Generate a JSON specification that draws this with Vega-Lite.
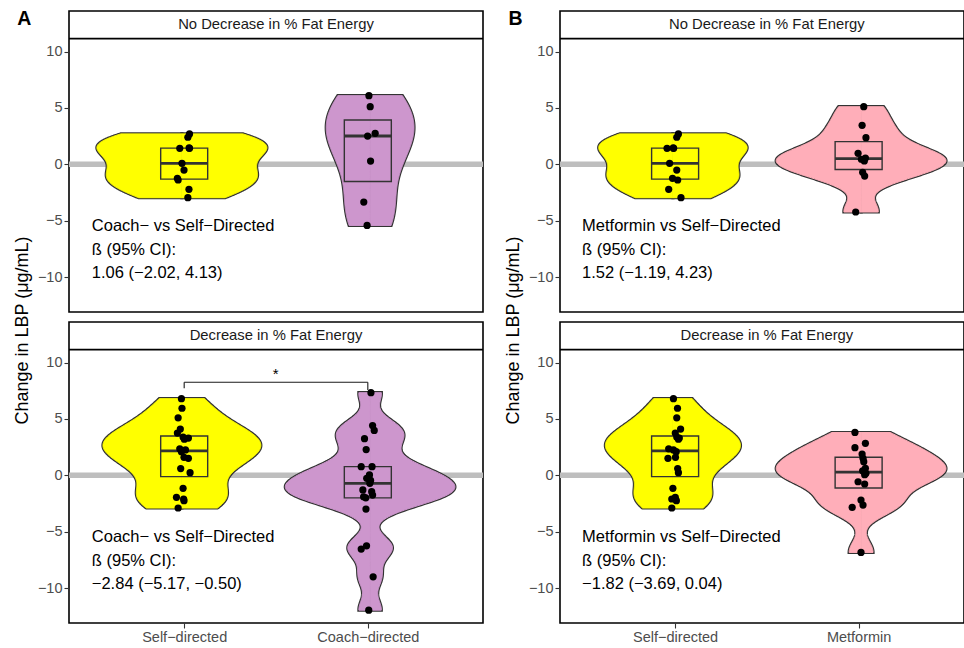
{
  "$schema": "https://vega.github.io/schema/vega-lite/v6.json",
  "padding": {"left": 12, "top": 8, "right": 0, "bottom": 0},
  "background": "white",
  "config": {
    "font": "Liberation Sans",
    "view": {"stroke": "#000000", "strokeWidth": 1.6},
    "axis": {"grid": false, "domain": false, "labelFont": "Liberation Sans", "titleFont": "Liberation Sans"}
  },
  "datasets": {
    "pts": [
      {"p":"A1","g":1,"x":1.029,"v":2.70},{"p":"A1","g":1,"x":1.020,"v":2.40},{"p":"A1","g":1,"x":0.976,"v":1.42},{"p":"A1","g":1,"x":1.029,"v":1.42},{"p":"A1","g":1,"x":1.027,"v":1.45},{"p":"A1","g":1,"x":0.988,"v":0.09},{"p":"A1","g":1,"x":0.999,"v":-0.51},{"p":"A1","g":1,"x":0.963,"v":-1.24},{"p":"A1","g":1,"x":0.967,"v":-1.39},{"p":"A1","g":1,"x":1.026,"v":-2.22},{"p":"A1","g":1,"x":1.020,"v":-2.96},
      {"p":"A1","g":2,"x":2.006,"v":6.09},{"p":"A1","g":2,"x":2.013,"v":5.11},{"p":"A1","g":2,"x":2.040,"v":2.75},{"p":"A1","g":2,"x":1.999,"v":2.51},{"p":"A1","g":2,"x":2.015,"v":0.29},{"p":"A1","g":2,"x":1.978,"v":-3.35},{"p":"A1","g":2,"x":1.996,"v":-5.42},
      {"p":"A2","g":1,"x":0.985,"v":6.80},{"p":"A2","g":1,"x":0.988,"v":5.95},{"p":"A2","g":1,"x":0.967,"v":5.10},{"p":"A2","g":1,"x":0.979,"v":4.10},{"p":"A2","g":1,"x":0.963,"v":3.75},{"p":"A2","g":1,"x":0.994,"v":3.40},{"p":"A2","g":1,"x":1.023,"v":3.30},{"p":"A2","g":1,"x":1.001,"v":3.20},{"p":"A2","g":1,"x":0.976,"v":2.35},{"p":"A2","g":1,"x":1.007,"v":2.25},{"p":"A2","g":1,"x":0.985,"v":2.10},{"p":"A2","g":1,"x":0.999,"v":1.60},{"p":"A2","g":1,"x":1.023,"v":1.51},{"p":"A2","g":1,"x":0.981,"v":0.60},{"p":"A2","g":1,"x":1.032,"v":0.23},{"p":"A2","g":1,"x":0.994,"v":-1.15},{"p":"A2","g":1,"x":0.958,"v":-1.95},{"p":"A2","g":1,"x":0.997,"v":-2.10},{"p":"A2","g":1,"x":0.999,"v":-2.25},{"p":"A2","g":1,"x":0.967,"v":-2.90},
      {"p":"A2","g":2,"x":2.017,"v":7.33},{"p":"A2","g":2,"x":2.026,"v":4.42},{"p":"A2","g":2,"x":2.035,"v":3.98},{"p":"A2","g":2,"x":1.982,"v":3.25},{"p":"A2","g":2,"x":1.991,"v":2.28},{"p":"A2","g":2,"x":1.964,"v":0.77},{"p":"A2","g":2,"x":2.023,"v":0.77},{"p":"A2","g":2,"x":2.009,"v":0.03},{"p":"A2","g":2,"x":1.994,"v":-0.27},{"p":"A2","g":2,"x":2.015,"v":-0.45},{"p":"A2","g":2,"x":2.011,"v":-0.71},{"p":"A2","g":2,"x":1.973,"v":-1.30},{"p":"A2","g":2,"x":2.021,"v":-1.45},{"p":"A2","g":2,"x":2.026,"v":-1.75},{"p":"A2","g":2,"x":1.977,"v":-1.90},{"p":"A2","g":2,"x":1.989,"v":-2.00},{"p":"A2","g":2,"x":1.990,"v":-2.99},{"p":"A2","g":2,"x":1.993,"v":-6.25},{"p":"A2","g":2,"x":1.964,"v":-6.54},{"p":"A2","g":2,"x":2.029,"v":-9.00},{"p":"A2","g":2,"x":2.005,"v":-11.96},
      {"p":"B1","g":1,"x":1.018,"v":2.70},{"p":"B1","g":1,"x":1.009,"v":2.40},{"p":"B1","g":1,"x":0.956,"v":1.42},{"p":"B1","g":1,"x":0.992,"v":1.42},{"p":"B1","g":1,"x":0.990,"v":1.45},{"p":"B1","g":1,"x":0.970,"v":0.09},{"p":"B1","g":1,"x":1.009,"v":-0.51},{"p":"B1","g":1,"x":0.986,"v":-1.24},{"p":"B1","g":1,"x":1.014,"v":-1.39},{"p":"B1","g":1,"x":0.965,"v":-2.22},{"p":"B1","g":1,"x":1.032,"v":-2.96},
      {"p":"B1","g":2,"x":2.028,"v":5.11},{"p":"B1","g":2,"x":2.019,"v":3.46},{"p":"B1","g":2,"x":2.040,"v":2.36},{"p":"B1","g":2,"x":1.997,"v":0.98},{"p":"B1","g":2,"x":2.037,"v":0.55},{"p":"B1","g":2,"x":2.015,"v":0.45},{"p":"B1","g":2,"x":2.031,"v":0.30},{"p":"B1","g":2,"x":2.022,"v":-0.71},{"p":"B1","g":2,"x":2.033,"v":-1.04},{"p":"B1","g":2,"x":1.984,"v":-4.23},
      {"p":"B2","g":1,"x":0.991,"v":6.80},{"p":"B2","g":1,"x":1.013,"v":5.95},{"p":"B2","g":1,"x":1.009,"v":5.10},{"p":"B2","g":1,"x":1.030,"v":4.10},{"p":"B2","g":1,"x":1.001,"v":3.75},{"p":"B2","g":1,"x":1.009,"v":3.40},{"p":"B2","g":1,"x":1.023,"v":3.30},{"p":"B2","g":1,"x":1.018,"v":3.20},{"p":"B2","g":1,"x":0.965,"v":2.35},{"p":"B2","g":1,"x":0.991,"v":2.25},{"p":"B2","g":1,"x":1.006,"v":2.10},{"p":"B2","g":1,"x":1.002,"v":1.60},{"p":"B2","g":1,"x":0.961,"v":1.51},{"p":"B2","g":1,"x":1.014,"v":0.60},{"p":"B2","g":1,"x":1.018,"v":0.23},{"p":"B2","g":1,"x":0.988,"v":-1.15},{"p":"B2","g":1,"x":1.001,"v":-1.95},{"p":"B2","g":1,"x":0.982,"v":-2.10},{"p":"B2","g":1,"x":1.007,"v":-2.25},{"p":"B2","g":1,"x":0.982,"v":-2.90},
      {"p":"B2","g":2,"x":1.980,"v":3.80},{"p":"B2","g":2,"x":2.037,"v":2.84},{"p":"B2","g":2,"x":1.980,"v":2.45},{"p":"B2","g":2,"x":2.019,"v":1.89},{"p":"B2","g":2,"x":2.024,"v":1.51},{"p":"B2","g":2,"x":2.028,"v":1.21},{"p":"B2","g":2,"x":2.037,"v":0.62},{"p":"B2","g":2,"x":2.022,"v":0.40},{"p":"B2","g":2,"x":2.040,"v":0.18},{"p":"B2","g":2,"x":2.033,"v":0.05},{"p":"B2","g":2,"x":1.997,"v":-0.57},{"p":"B2","g":2,"x":2.033,"v":-0.77},{"p":"B2","g":2,"x":2.013,"v":-2.19},{"p":"B2","g":2,"x":2.024,"v":-2.64},{"p":"B2","g":2,"x":1.965,"v":-2.84},{"p":"B2","g":2,"x":2.013,"v":-6.84}
    ]
  },
  "spacing": 16,
  "hconcat": [
    {
      "spacing": 10,
      "bounds": "flush",
      "vconcat": [
        {
          "width": 414, "height": 301,
          "data": {"name": "pts"},
          "transform": [{"filter": "datum.p == 'A1'"}],
          "resolve": {"scale": {"x": "independent"}, "axis": {"y": "independent"}},
          "layer": [
            {"data": {"values": [{}]}, "mark": {"type": "rule", "color": "#BEBEBE", "strokeWidth": 5.5},
             "encoding": {"y": {"datum": 0, "type": "quantitative", "scale": {"domain": [-13.1, 13.6], "nice": false, "zero": false},
               "axis": {"orient": "left", "values": [-10, -5, 0, 5, 10], "title": "Change in LBP (μg/mL)", "titleX": -37.5, "titleY": 319, "titleFontSize": 18, "titleFontWeight": "normal", "titleColor": "#000000", "titleBaseline": "bottom", "tickSize": 5, "tickColor": "#333333", "tickWidth": 1.1, "labelColor": "#4D4D4D", "labelFontSize": 14.5, "labelPadding": 2}}}},
            {
              "transform": [{"filter": "datum.g == 1"}, {"density": "v", "bandwidth": 1.063, "steps": 200}],
              "resolve": {"scale": {"x": "independent"}},
              "layer": [
                {"mark": {"type": "area", "orient": "horizontal", "fill": "transparent", "stroke": "#333333", "strokeWidth": 3.2},
                 "encoding": {"y": {"field": "value", "type": "quantitative", "scale": {"domain": [-13.1, 13.6], "nice": false, "zero": false}, "axis": null},
                   "x": {"field": "density", "type": "quantitative", "stack": null, "scale": {"domain": [-0.5881, 0.2205], "reverse": true, "nice": false, "zero": false}, "axis": null}}},
                {"mark": {"type": "area", "orient": "horizontal", "fill": "transparent", "stroke": "#333333", "strokeWidth": 3.2},
                 "encoding": {"y": {"field": "value", "type": "quantitative", "scale": {"domain": [-13.1, 13.6], "nice": false, "zero": false}, "axis": null},
                   "x": {"field": "density", "type": "quantitative", "stack": null, "scale": {"domain": [-0.2205, 0.5881], "nice": false, "zero": false}, "axis": null}}},
                {"mark": {"type": "area", "orient": "horizontal", "fill": "#FFFF00", "stroke": "#FFFF00", "strokeWidth": 1},
                 "encoding": {"y": {"field": "value", "type": "quantitative", "scale": {"domain": [-13.1, 13.6], "nice": false, "zero": false}, "axis": null},
                   "x": {"field": "density", "type": "quantitative", "stack": null, "scale": {"domain": [-0.5881, 0.2205], "reverse": true, "nice": false, "zero": false}, "axis": null}}},
                {"mark": {"type": "area", "orient": "horizontal", "fill": "#FFFF00", "stroke": "#FFFF00", "strokeWidth": 1},
                 "encoding": {"y": {"field": "value", "type": "quantitative", "scale": {"domain": [-13.1, 13.6], "nice": false, "zero": false}, "axis": null},
                   "x": {"field": "density", "type": "quantitative", "stack": null, "scale": {"domain": [-0.2205, 0.5881], "nice": false, "zero": false}, "axis": null}}}
              ]
            },
            {
              "transform": [{"filter": "datum.g == 2"}, {"density": "v", "bandwidth": 2.486, "steps": 200}],
              "resolve": {"scale": {"x": "independent"}},
              "layer": [
                {"mark": {"type": "area", "orient": "horizontal", "fill": "transparent", "stroke": "#333333", "strokeWidth": 3.2},
                 "encoding": {"y": {"field": "value", "type": "quantitative", "scale": {"domain": [-13.1, 13.6], "nice": false, "zero": false}, "axis": null},
                   "x": {"field": "density", "type": "quantitative", "stack": null, "scale": {"domain": [-0.2205, 0.5881], "reverse": true, "nice": false, "zero": false}, "axis": null}}},
                {"mark": {"type": "area", "orient": "horizontal", "fill": "transparent", "stroke": "#333333", "strokeWidth": 3.2},
                 "encoding": {"y": {"field": "value", "type": "quantitative", "scale": {"domain": [-13.1, 13.6], "nice": false, "zero": false}, "axis": null},
                   "x": {"field": "density", "type": "quantitative", "stack": null, "scale": {"domain": [-0.5881, 0.2205], "nice": false, "zero": false}, "axis": null}}},
                {"mark": {"type": "area", "orient": "horizontal", "fill": "#CD96CD", "stroke": "#CD96CD", "strokeWidth": 1},
                 "encoding": {"y": {"field": "value", "type": "quantitative", "scale": {"domain": [-13.1, 13.6], "nice": false, "zero": false}, "axis": null},
                   "x": {"field": "density", "type": "quantitative", "stack": null, "scale": {"domain": [-0.2205, 0.5881], "reverse": true, "nice": false, "zero": false}, "axis": null}}},
                {"mark": {"type": "area", "orient": "horizontal", "fill": "#CD96CD", "stroke": "#CD96CD", "strokeWidth": 1},
                 "encoding": {"y": {"field": "value", "type": "quantitative", "scale": {"domain": [-13.1, 13.6], "nice": false, "zero": false}, "axis": null},
                   "x": {"field": "density", "type": "quantitative", "stack": null, "scale": {"domain": [-0.5881, 0.2205], "nice": false, "zero": false}, "axis": null}}}
              ]
            },
            {
              "layer": [
                {"mark": {"type": "bar", "width": 47, "fill": "transparent", "stroke": "#333333", "strokeWidth": 1.4},
                 "encoding": {"x": {"field": "g", "type": "quantitative", "scale": {"domain": [0.4, 2.6], "nice": false, "zero": false}, "axis": null},
                   "y": {"aggregate": "q1", "field": "v", "type": "quantitative", "scale": {"domain": [-13.1, 13.6], "nice": false, "zero": false}, "axis": null},
                   "y2": {"aggregate": "q3", "field": "v"}}},
                {"mark": {"type": "tick", "orient": "horizontal", "size": 47, "thickness": 2.8, "color": "#333333"},
                 "encoding": {"x": {"field": "g", "type": "quantitative", "scale": {"domain": [0.4, 2.6], "nice": false, "zero": false}, "axis": null},
                   "y": {"aggregate": "median", "field": "v", "type": "quantitative", "scale": {"domain": [-13.1, 13.6], "nice": false, "zero": false}, "axis": null}}},
                {"mark": {"type": "circle", "size": 52, "color": "#000000", "opacity": 1},
                 "encoding": {"x": {"field": "x", "type": "quantitative", "scale": {"domain": [0.4, 2.6], "nice": false, "zero": false}, "axis": null},
                   "y": {"field": "v", "type": "quantitative", "scale": {"domain": [-13.1, 13.6], "nice": false, "zero": false}, "axis": null}}},
                {"data": {"values": [{}]}, "mark": {"type": "text", "align": "left", "baseline": "middle", "fontSize": 16.5, "lineHeight": 23.5, "color": "#000000", "text": ["Coach− vs Self−Directed", "ß (95% CI):", "1.06 (−2.02, 4.13)"]},
                 "encoding": {"x": {"datum": 0.497, "type": "quantitative", "scale": {"domain": [0.4, 2.6], "nice": false, "zero": false}, "axis": null},
                   "y": {"datum": -5.48, "type": "quantitative", "scale": {"domain": [-13.1, 13.6], "nice": false, "zero": false}, "axis": null}}},
                {"data": {"values": [{}]}, "mark": {"type": "rule", "color": "#000000", "strokeWidth": 1.8},
                 "encoding": {"y": {"datum": 11.15, "type": "quantitative", "scale": {"domain": [-13.1, 13.6], "nice": false, "zero": false}, "axis": null}}},
                {"data": {"values": [{}]}, "mark": {"type": "text", "align": "center", "baseline": "middle", "fontSize": 14.8, "color": "#1A1A1A", "text": "No Decrease in % Fat Energy"},
                 "encoding": {"x": {"datum": 1.5, "type": "quantitative", "scale": {"domain": [0.4, 2.6], "nice": false, "zero": false}, "axis": null},
                   "y": {"datum": 12.36, "type": "quantitative", "scale": {"domain": [-13.1, 13.6], "nice": false, "zero": false}, "axis": null}}},
                {"data": {"values": [{}]}, "mark": {"type": "text", "align": "center", "baseline": "middle", "fontSize": 19.5, "fontWeight": "bold", "color": "#000000", "text": "A"},
                 "encoding": {"x": {"datum": 0.13, "type": "quantitative", "scale": {"domain": [0.4, 2.6], "nice": false, "zero": false}, "axis": null},
                   "y": {"datum": 12.85, "type": "quantitative", "scale": {"domain": [-13.1, 13.6], "nice": false, "zero": false}, "axis": null}}}
              ]
            }
          ]
        },
        {
          "width": 414, "height": 301,
          "data": {"name": "pts"},
          "transform": [{"filter": "datum.p == 'A2'"}],
          "resolve": {"scale": {"x": "independent"}, "axis": {"y": "independent"}},
          "layer": [
            {"data": {"values": [{}]}, "mark": {"type": "rule", "color": "#BEBEBE", "strokeWidth": 5.5},
             "encoding": {"y": {"datum": 0, "type": "quantitative", "scale": {"domain": [-13.1, 13.6], "nice": false, "zero": false},
               "axis": {"orient": "left", "values": [-10, -5, 0, 5, 10], "title": null, "tickSize": 5, "tickColor": "#333333", "tickWidth": 1.1, "labelColor": "#4D4D4D", "labelFontSize": 14.5, "labelPadding": 2}}}},
            {
              "transform": [{"filter": "datum.g == 1"}, {"density": "v", "bandwidth": 1.329, "steps": 200}],
              "resolve": {"scale": {"x": "independent"}},
              "layer": [
                {"mark": {"type": "area", "orient": "horizontal", "fill": "transparent", "stroke": "#333333", "strokeWidth": 3.2},
                 "encoding": {"y": {"field": "value", "type": "quantitative", "scale": {"domain": [-13.1, 13.6], "nice": false, "zero": false}, "axis": null},
                   "x": {"field": "density", "type": "quantitative", "stack": null, "scale": {"domain": [-0.5121, 0.1920], "reverse": true, "nice": false, "zero": false}, "axis": null}}},
                {"mark": {"type": "area", "orient": "horizontal", "fill": "transparent", "stroke": "#333333", "strokeWidth": 3.2},
                 "encoding": {"y": {"field": "value", "type": "quantitative", "scale": {"domain": [-13.1, 13.6], "nice": false, "zero": false}, "axis": null},
                   "x": {"field": "density", "type": "quantitative", "stack": null, "scale": {"domain": [-0.1920, 0.5121], "nice": false, "zero": false}, "axis": null}}},
                {"mark": {"type": "area", "orient": "horizontal", "fill": "#FFFF00", "stroke": "#FFFF00", "strokeWidth": 1},
                 "encoding": {"y": {"field": "value", "type": "quantitative", "scale": {"domain": [-13.1, 13.6], "nice": false, "zero": false}, "axis": null},
                   "x": {"field": "density", "type": "quantitative", "stack": null, "scale": {"domain": [-0.5121, 0.1920], "reverse": true, "nice": false, "zero": false}, "axis": null}}},
                {"mark": {"type": "area", "orient": "horizontal", "fill": "#FFFF00", "stroke": "#FFFF00", "strokeWidth": 1},
                 "encoding": {"y": {"field": "value", "type": "quantitative", "scale": {"domain": [-13.1, 13.6], "nice": false, "zero": false}, "axis": null},
                   "x": {"field": "density", "type": "quantitative", "stack": null, "scale": {"domain": [-0.1920, 0.5121], "nice": false, "zero": false}, "axis": null}}}
              ]
            },
            {
              "transform": [{"filter": "datum.g == 2"}, {"density": "v", "bandwidth": 1.012, "steps": 200}],
              "resolve": {"scale": {"x": "independent"}},
              "layer": [
                {"mark": {"type": "area", "orient": "horizontal", "fill": "transparent", "stroke": "#333333", "strokeWidth": 3.2},
                 "encoding": {"y": {"field": "value", "type": "quantitative", "scale": {"domain": [-13.1, 13.6], "nice": false, "zero": false}, "axis": null},
                   "x": {"field": "density", "type": "quantitative", "stack": null, "scale": {"domain": [-0.1920, 0.5121], "reverse": true, "nice": false, "zero": false}, "axis": null}}},
                {"mark": {"type": "area", "orient": "horizontal", "fill": "transparent", "stroke": "#333333", "strokeWidth": 3.2},
                 "encoding": {"y": {"field": "value", "type": "quantitative", "scale": {"domain": [-13.1, 13.6], "nice": false, "zero": false}, "axis": null},
                   "x": {"field": "density", "type": "quantitative", "stack": null, "scale": {"domain": [-0.5121, 0.1920], "nice": false, "zero": false}, "axis": null}}},
                {"mark": {"type": "area", "orient": "horizontal", "fill": "#CD96CD", "stroke": "#CD96CD", "strokeWidth": 1},
                 "encoding": {"y": {"field": "value", "type": "quantitative", "scale": {"domain": [-13.1, 13.6], "nice": false, "zero": false}, "axis": null},
                   "x": {"field": "density", "type": "quantitative", "stack": null, "scale": {"domain": [-0.1920, 0.5121], "reverse": true, "nice": false, "zero": false}, "axis": null}}},
                {"mark": {"type": "area", "orient": "horizontal", "fill": "#CD96CD", "stroke": "#CD96CD", "strokeWidth": 1},
                 "encoding": {"y": {"field": "value", "type": "quantitative", "scale": {"domain": [-13.1, 13.6], "nice": false, "zero": false}, "axis": null},
                   "x": {"field": "density", "type": "quantitative", "stack": null, "scale": {"domain": [-0.5121, 0.1920], "nice": false, "zero": false}, "axis": null}}}
              ]
            },
            {
              "resolve": {"axis": {"x": "independent"}},
              "layer": [
                {"mark": {"type": "bar", "width": 47, "fill": "transparent", "stroke": "#333333", "strokeWidth": 1.4},
                 "encoding": {"x": {"field": "g", "type": "quantitative", "scale": {"domain": [0.4, 2.6], "nice": false, "zero": false}, "axis": null},
                   "y": {"aggregate": "q1", "field": "v", "type": "quantitative", "scale": {"domain": [-13.1, 13.6], "nice": false, "zero": false}, "axis": null},
                   "y2": {"aggregate": "q3", "field": "v"}}},
                {"mark": {"type": "tick", "orient": "horizontal", "size": 47, "thickness": 2.8, "color": "#333333"},
                 "encoding": {"x": {"field": "g", "type": "quantitative", "scale": {"domain": [0.4, 2.6], "nice": false, "zero": false}, "axis": null},
                   "y": {"aggregate": "median", "field": "v", "type": "quantitative", "scale": {"domain": [-13.1, 13.6], "nice": false, "zero": false}, "axis": null}}},
                {"mark": {"type": "circle", "size": 52, "color": "#000000", "opacity": 1},
                 "encoding": {"x": {"field": "x", "type": "quantitative", "scale": {"domain": [0.4, 2.6], "nice": false, "zero": false},
                     "axis": {"orient": "bottom", "values": [1, 2], "labelExpr": "datum.value == 1 ? 'Self−directed' : 'Coach−directed'", "title": null, "tickSize": 5, "tickColor": "#333333", "tickWidth": 1.1, "labelColor": "#4D4D4D", "labelFontSize": 14.5, "labelPadding": 2}},
                   "y": {"field": "v", "type": "quantitative", "scale": {"domain": [-13.1, 13.6], "nice": false, "zero": false}, "axis": null}}},
                {"data": {"values": [{}]}, "mark": {"type": "text", "align": "left", "baseline": "middle", "fontSize": 16.5, "lineHeight": 23.5, "color": "#000000", "text": ["Coach− vs Self−Directed", "ß (95% CI):", "−2.84 (−5.17, −0.50)"]},
                 "encoding": {"x": {"datum": 0.497, "type": "quantitative", "scale": {"domain": [0.4, 2.6], "nice": false, "zero": false}, "axis": null},
                   "y": {"datum": -5.48, "type": "quantitative", "scale": {"domain": [-13.1, 13.6], "nice": false, "zero": false}, "axis": null}}},
                {"data": {"values": [{}]}, "mark": {"type": "rule", "color": "#1A1A1A", "strokeWidth": 1.1},
                 "encoding": {"x": {"datum": 1, "type": "quantitative", "scale": {"domain": [0.4, 2.6], "nice": false, "zero": false}, "axis": null},
                   "y": {"datum": 7.72, "type": "quantitative", "scale": {"domain": [-13.1, 13.6], "nice": false, "zero": false}, "axis": null},
                   "y2": {"datum": 8.26}}},
                {"data": {"values": [{}]}, "mark": {"type": "rule", "color": "#1A1A1A", "strokeWidth": 1.1},
                 "encoding": {"x": {"datum": 1, "type": "quantitative", "scale": {"domain": [0.4, 2.6], "nice": false, "zero": false}, "axis": null},
                   "x2": {"datum": 2},
                   "y": {"datum": 8.26, "type": "quantitative", "scale": {"domain": [-13.1, 13.6], "nice": false, "zero": false}, "axis": null}}},
                {"data": {"values": [{}]}, "mark": {"type": "rule", "color": "#1A1A1A", "strokeWidth": 1.1},
                 "encoding": {"x": {"datum": 2, "type": "quantitative", "scale": {"domain": [0.4, 2.6], "nice": false, "zero": false}, "axis": null},
                   "y": {"datum": 7.57, "type": "quantitative", "scale": {"domain": [-13.1, 13.6], "nice": false, "zero": false}, "axis": null},
                   "y2": {"datum": 8.26}}},
                {"data": {"values": [{}]}, "mark": {"type": "text", "align": "center", "baseline": "alphabetic", "fontSize": 15, "color": "#000000", "text": "*"},
                 "encoding": {"x": {"datum": 1.498, "type": "quantitative", "scale": {"domain": [0.4, 2.6], "nice": false, "zero": false}, "axis": null},
                   "y": {"datum": 8.55, "type": "quantitative", "scale": {"domain": [-13.1, 13.6], "nice": false, "zero": false}, "axis": null}}},
                {"data": {"values": [{}]}, "mark": {"type": "rule", "color": "#000000", "strokeWidth": 1.8},
                 "encoding": {"y": {"datum": 11.15, "type": "quantitative", "scale": {"domain": [-13.1, 13.6], "nice": false, "zero": false}, "axis": null}}},
                {"data": {"values": [{}]}, "mark": {"type": "text", "align": "center", "baseline": "middle", "fontSize": 14.8, "color": "#1A1A1A", "text": "Decrease in % Fat Energy"},
                 "encoding": {"x": {"datum": 1.5, "type": "quantitative", "scale": {"domain": [0.4, 2.6], "nice": false, "zero": false}, "axis": null},
                   "y": {"datum": 12.36, "type": "quantitative", "scale": {"domain": [-13.1, 13.6], "nice": false, "zero": false}, "axis": null}}}
              ]
            }
          ]
        }
      ]
    },
    {
      "spacing": 10,
      "bounds": "flush",
      "vconcat": [
        {
          "width": 404, "height": 301,
          "data": {"name": "pts"},
          "transform": [{"filter": "datum.p == 'B1'"}],
          "resolve": {"scale": {"x": "independent"}, "axis": {"y": "independent"}},
          "layer": [
            {"data": {"values": [{}]}, "mark": {"type": "rule", "color": "#BEBEBE", "strokeWidth": 5.5},
             "encoding": {"y": {"datum": 0, "type": "quantitative", "scale": {"domain": [-13.1, 13.6], "nice": false, "zero": false},
               "axis": {"orient": "left", "values": [-10, -5, 0, 5, 10], "title": "Change in LBP (μg/mL)", "titleX": -37.5, "titleY": 319, "titleFontSize": 18, "titleFontWeight": "normal", "titleColor": "#000000", "titleBaseline": "bottom", "tickSize": 5, "tickColor": "#333333", "tickWidth": 1.1, "labelColor": "#4D4D4D", "labelFontSize": 14.5, "labelPadding": 2}}}},
            {
              "transform": [{"filter": "datum.g == 1"}, {"density": "v", "bandwidth": 1.063, "steps": 200}],
              "resolve": {"scale": {"x": "independent"}},
              "layer": [
                {"mark": {"type": "area", "orient": "horizontal", "fill": "transparent", "stroke": "#333333", "strokeWidth": 3.2},
                 "encoding": {"y": {"field": "value", "type": "quantitative", "scale": {"domain": [-13.1, 13.6], "nice": false, "zero": false}, "axis": null},
                   "x": {"field": "density", "type": "quantitative", "stack": null, "scale": {"domain": [-0.6512, 0.2526], "reverse": true, "nice": false, "zero": false}, "axis": null}}},
                {"mark": {"type": "area", "orient": "horizontal", "fill": "transparent", "stroke": "#333333", "strokeWidth": 3.2},
                 "encoding": {"y": {"field": "value", "type": "quantitative", "scale": {"domain": [-13.1, 13.6], "nice": false, "zero": false}, "axis": null},
                   "x": {"field": "density", "type": "quantitative", "stack": null, "scale": {"domain": [-0.2526, 0.6512], "nice": false, "zero": false}, "axis": null}}},
                {"mark": {"type": "area", "orient": "horizontal", "fill": "#FFFF00", "stroke": "#FFFF00", "strokeWidth": 1},
                 "encoding": {"y": {"field": "value", "type": "quantitative", "scale": {"domain": [-13.1, 13.6], "nice": false, "zero": false}, "axis": null},
                   "x": {"field": "density", "type": "quantitative", "stack": null, "scale": {"domain": [-0.6512, 0.2526], "reverse": true, "nice": false, "zero": false}, "axis": null}}},
                {"mark": {"type": "area", "orient": "horizontal", "fill": "#FFFF00", "stroke": "#FFFF00", "strokeWidth": 1},
                 "encoding": {"y": {"field": "value", "type": "quantitative", "scale": {"domain": [-13.1, 13.6], "nice": false, "zero": false}, "axis": null},
                   "x": {"field": "density", "type": "quantitative", "stack": null, "scale": {"domain": [-0.2526, 0.6512], "nice": false, "zero": false}, "axis": null}}}
              ]
            },
            {
              "transform": [{"filter": "datum.g == 2"}, {"density": "v", "bandwidth": 1.051, "steps": 200}],
              "resolve": {"scale": {"x": "independent"}},
              "layer": [
                {"mark": {"type": "area", "orient": "horizontal", "fill": "transparent", "stroke": "#333333", "strokeWidth": 3.2},
                 "encoding": {"y": {"field": "value", "type": "quantitative", "scale": {"domain": [-13.1, 13.6], "nice": false, "zero": false}, "axis": null},
                   "x": {"field": "density", "type": "quantitative", "stack": null, "scale": {"domain": [-0.2302, 0.6736], "reverse": true, "nice": false, "zero": false}, "axis": null}}},
                {"mark": {"type": "area", "orient": "horizontal", "fill": "transparent", "stroke": "#333333", "strokeWidth": 3.2},
                 "encoding": {"y": {"field": "value", "type": "quantitative", "scale": {"domain": [-13.1, 13.6], "nice": false, "zero": false}, "axis": null},
                   "x": {"field": "density", "type": "quantitative", "stack": null, "scale": {"domain": [-0.6736, 0.2302], "nice": false, "zero": false}, "axis": null}}},
                {"mark": {"type": "area", "orient": "horizontal", "fill": "#FFAEB9", "stroke": "#FFAEB9", "strokeWidth": 1},
                 "encoding": {"y": {"field": "value", "type": "quantitative", "scale": {"domain": [-13.1, 13.6], "nice": false, "zero": false}, "axis": null},
                   "x": {"field": "density", "type": "quantitative", "stack": null, "scale": {"domain": [-0.2302, 0.6736], "reverse": true, "nice": false, "zero": false}, "axis": null}}},
                {"mark": {"type": "area", "orient": "horizontal", "fill": "#FFAEB9", "stroke": "#FFAEB9", "strokeWidth": 1},
                 "encoding": {"y": {"field": "value", "type": "quantitative", "scale": {"domain": [-13.1, 13.6], "nice": false, "zero": false}, "axis": null},
                   "x": {"field": "density", "type": "quantitative", "stack": null, "scale": {"domain": [-0.6736, 0.2302], "nice": false, "zero": false}, "axis": null}}}
              ]
            },
            {
              "layer": [
                {"mark": {"type": "bar", "width": 47, "fill": "transparent", "stroke": "#333333", "strokeWidth": 1.4},
                 "encoding": {"x": {"field": "g", "type": "quantitative", "scale": {"domain": [0.4, 2.547], "nice": false, "zero": false}, "axis": null},
                   "y": {"aggregate": "q1", "field": "v", "type": "quantitative", "scale": {"domain": [-13.1, 13.6], "nice": false, "zero": false}, "axis": null},
                   "y2": {"aggregate": "q3", "field": "v"}}},
                {"mark": {"type": "tick", "orient": "horizontal", "size": 47, "thickness": 2.8, "color": "#333333"},
                 "encoding": {"x": {"field": "g", "type": "quantitative", "scale": {"domain": [0.4, 2.547], "nice": false, "zero": false}, "axis": null},
                   "y": {"aggregate": "median", "field": "v", "type": "quantitative", "scale": {"domain": [-13.1, 13.6], "nice": false, "zero": false}, "axis": null}}},
                {"mark": {"type": "circle", "size": 52, "color": "#000000", "opacity": 1},
                 "encoding": {"x": {"field": "x", "type": "quantitative", "scale": {"domain": [0.4, 2.547], "nice": false, "zero": false}, "axis": null},
                   "y": {"field": "v", "type": "quantitative", "scale": {"domain": [-13.1, 13.6], "nice": false, "zero": false}, "axis": null}}},
                {"data": {"values": [{}]}, "mark": {"type": "text", "align": "left", "baseline": "middle", "fontSize": 16.5, "lineHeight": 23.5, "color": "#000000", "text": ["Metformin vs Self−Directed", "ß (95% CI):", "1.52 (−1.19, 4.23)"]},
                 "encoding": {"x": {"datum": 0.493, "type": "quantitative", "scale": {"domain": [0.4, 2.547], "nice": false, "zero": false}, "axis": null},
                   "y": {"datum": -5.48, "type": "quantitative", "scale": {"domain": [-13.1, 13.6], "nice": false, "zero": false}, "axis": null}}},
                {"data": {"values": [{}]}, "mark": {"type": "rule", "color": "#000000", "strokeWidth": 1.8},
                 "encoding": {"y": {"datum": 11.15, "type": "quantitative", "scale": {"domain": [-13.1, 13.6], "nice": false, "zero": false}, "axis": null}}},
                {"data": {"values": [{}]}, "mark": {"type": "text", "align": "center", "baseline": "middle", "fontSize": 14.8, "color": "#1A1A1A", "text": "No Decrease in % Fat Energy"},
                 "encoding": {"x": {"datum": 1.5, "type": "quantitative", "scale": {"domain": [0.4, 2.547], "nice": false, "zero": false}, "axis": null},
                   "y": {"datum": 12.36, "type": "quantitative", "scale": {"domain": [-13.1, 13.6], "nice": false, "zero": false}, "axis": null}}},
                {"data": {"values": [{}]}, "mark": {"type": "text", "align": "center", "baseline": "middle", "fontSize": 19.5, "fontWeight": "bold", "color": "#000000", "text": "B"},
                 "encoding": {"x": {"datum": 0.13, "type": "quantitative", "scale": {"domain": [0.4, 2.547], "nice": false, "zero": false}, "axis": null},
                   "y": {"datum": 12.85, "type": "quantitative", "scale": {"domain": [-13.1, 13.6], "nice": false, "zero": false}, "axis": null}}}
              ]
            }
          ]
        },
        {
          "width": 404, "height": 301,
          "data": {"name": "pts"},
          "transform": [{"filter": "datum.p == 'B2'"}],
          "resolve": {"scale": {"x": "independent"}, "axis": {"y": "independent"}},
          "layer": [
            {"data": {"values": [{}]}, "mark": {"type": "rule", "color": "#BEBEBE", "strokeWidth": 5.5},
             "encoding": {"y": {"datum": 0, "type": "quantitative", "scale": {"domain": [-13.1, 13.6], "nice": false, "zero": false},
               "axis": {"orient": "left", "values": [-10, -5, 0, 5, 10], "title": null, "tickSize": 5, "tickColor": "#333333", "tickWidth": 1.1, "labelColor": "#4D4D4D", "labelFontSize": 14.5, "labelPadding": 2}}}},
            {
              "transform": [{"filter": "datum.g == 1"}, {"density": "v", "bandwidth": 1.329, "steps": 200}],
              "resolve": {"scale": {"x": "independent"}},
              "layer": [
                {"mark": {"type": "area", "orient": "horizontal", "fill": "transparent", "stroke": "#333333", "strokeWidth": 3.2},
                 "encoding": {"y": {"field": "value", "type": "quantitative", "scale": {"domain": [-13.1, 13.6], "nice": false, "zero": false}, "axis": null},
                   "x": {"field": "density", "type": "quantitative", "stack": null, "scale": {"domain": [-0.5787, 0.2245], "reverse": true, "nice": false, "zero": false}, "axis": null}}},
                {"mark": {"type": "area", "orient": "horizontal", "fill": "transparent", "stroke": "#333333", "strokeWidth": 3.2},
                 "encoding": {"y": {"field": "value", "type": "quantitative", "scale": {"domain": [-13.1, 13.6], "nice": false, "zero": false}, "axis": null},
                   "x": {"field": "density", "type": "quantitative", "stack": null, "scale": {"domain": [-0.2245, 0.5787], "nice": false, "zero": false}, "axis": null}}},
                {"mark": {"type": "area", "orient": "horizontal", "fill": "#FFFF00", "stroke": "#FFFF00", "strokeWidth": 1},
                 "encoding": {"y": {"field": "value", "type": "quantitative", "scale": {"domain": [-13.1, 13.6], "nice": false, "zero": false}, "axis": null},
                   "x": {"field": "density", "type": "quantitative", "stack": null, "scale": {"domain": [-0.5787, 0.2245], "reverse": true, "nice": false, "zero": false}, "axis": null}}},
                {"mark": {"type": "area", "orient": "horizontal", "fill": "#FFFF00", "stroke": "#FFFF00", "strokeWidth": 1},
                 "encoding": {"y": {"field": "value", "type": "quantitative", "scale": {"domain": [-13.1, 13.6], "nice": false, "zero": false}, "axis": null},
                   "x": {"field": "density", "type": "quantitative", "stack": null, "scale": {"domain": [-0.2245, 0.5787], "nice": false, "zero": false}, "axis": null}}}
              ]
            },
            {
              "transform": [{"filter": "datum.g == 2"}, {"density": "v", "bandwidth": 1.052, "steps": 200}],
              "resolve": {"scale": {"x": "independent"}},
              "layer": [
                {"mark": {"type": "area", "orient": "horizontal", "fill": "transparent", "stroke": "#333333", "strokeWidth": 3.2},
                 "encoding": {"y": {"field": "value", "type": "quantitative", "scale": {"domain": [-13.1, 13.6], "nice": false, "zero": false}, "axis": null},
                   "x": {"field": "density", "type": "quantitative", "stack": null, "scale": {"domain": [-0.2046, 0.5986], "reverse": true, "nice": false, "zero": false}, "axis": null}}},
                {"mark": {"type": "area", "orient": "horizontal", "fill": "transparent", "stroke": "#333333", "strokeWidth": 3.2},
                 "encoding": {"y": {"field": "value", "type": "quantitative", "scale": {"domain": [-13.1, 13.6], "nice": false, "zero": false}, "axis": null},
                   "x": {"field": "density", "type": "quantitative", "stack": null, "scale": {"domain": [-0.5986, 0.2046], "nice": false, "zero": false}, "axis": null}}},
                {"mark": {"type": "area", "orient": "horizontal", "fill": "#FFAEB9", "stroke": "#FFAEB9", "strokeWidth": 1},
                 "encoding": {"y": {"field": "value", "type": "quantitative", "scale": {"domain": [-13.1, 13.6], "nice": false, "zero": false}, "axis": null},
                   "x": {"field": "density", "type": "quantitative", "stack": null, "scale": {"domain": [-0.2046, 0.5986], "reverse": true, "nice": false, "zero": false}, "axis": null}}},
                {"mark": {"type": "area", "orient": "horizontal", "fill": "#FFAEB9", "stroke": "#FFAEB9", "strokeWidth": 1},
                 "encoding": {"y": {"field": "value", "type": "quantitative", "scale": {"domain": [-13.1, 13.6], "nice": false, "zero": false}, "axis": null},
                   "x": {"field": "density", "type": "quantitative", "stack": null, "scale": {"domain": [-0.5986, 0.2046], "nice": false, "zero": false}, "axis": null}}}
              ]
            },
            {
              "resolve": {"axis": {"x": "independent"}},
              "layer": [
                {"mark": {"type": "bar", "width": 47, "fill": "transparent", "stroke": "#333333", "strokeWidth": 1.4},
                 "encoding": {"x": {"field": "g", "type": "quantitative", "scale": {"domain": [0.4, 2.547], "nice": false, "zero": false}, "axis": null},
                   "y": {"aggregate": "q1", "field": "v", "type": "quantitative", "scale": {"domain": [-13.1, 13.6], "nice": false, "zero": false}, "axis": null},
                   "y2": {"aggregate": "q3", "field": "v"}}},
                {"mark": {"type": "tick", "orient": "horizontal", "size": 47, "thickness": 2.8, "color": "#333333"},
                 "encoding": {"x": {"field": "g", "type": "quantitative", "scale": {"domain": [0.4, 2.547], "nice": false, "zero": false}, "axis": null},
                   "y": {"aggregate": "median", "field": "v", "type": "quantitative", "scale": {"domain": [-13.1, 13.6], "nice": false, "zero": false}, "axis": null}}},
                {"mark": {"type": "circle", "size": 52, "color": "#000000", "opacity": 1},
                 "encoding": {"x": {"field": "x", "type": "quantitative", "scale": {"domain": [0.4, 2.547], "nice": false, "zero": false},
                     "axis": {"orient": "bottom", "values": [1, 2], "labelExpr": "datum.value == 1 ? 'Self−directed' : 'Metformin'", "title": null, "tickSize": 5, "tickColor": "#333333", "tickWidth": 1.1, "labelColor": "#4D4D4D", "labelFontSize": 14.5, "labelPadding": 2}},
                   "y": {"field": "v", "type": "quantitative", "scale": {"domain": [-13.1, 13.6], "nice": false, "zero": false}, "axis": null}}},
                {"data": {"values": [{}]}, "mark": {"type": "text", "align": "left", "baseline": "middle", "fontSize": 16.5, "lineHeight": 23.5, "color": "#000000", "text": ["Metformin vs Self−Directed", "ß (95% CI):", "−1.82 (−3.69, 0.04)"]},
                 "encoding": {"x": {"datum": 0.493, "type": "quantitative", "scale": {"domain": [0.4, 2.547], "nice": false, "zero": false}, "axis": null},
                   "y": {"datum": -5.48, "type": "quantitative", "scale": {"domain": [-13.1, 13.6], "nice": false, "zero": false}, "axis": null}}},
                {"data": {"values": [{}]}, "mark": {"type": "rule", "color": "#000000", "strokeWidth": 1.8},
                 "encoding": {"y": {"datum": 11.15, "type": "quantitative", "scale": {"domain": [-13.1, 13.6], "nice": false, "zero": false}, "axis": null}}},
                {"data": {"values": [{}]}, "mark": {"type": "text", "align": "center", "baseline": "middle", "fontSize": 14.8, "color": "#1A1A1A", "text": "Decrease in % Fat Energy"},
                 "encoding": {"x": {"datum": 1.5, "type": "quantitative", "scale": {"domain": [0.4, 2.547], "nice": false, "zero": false}, "axis": null},
                   "y": {"datum": 12.36, "type": "quantitative", "scale": {"domain": [-13.1, 13.6], "nice": false, "zero": false}, "axis": null}}}
              ]
            }
          ]
        }
      ]
    }
  ]
}
